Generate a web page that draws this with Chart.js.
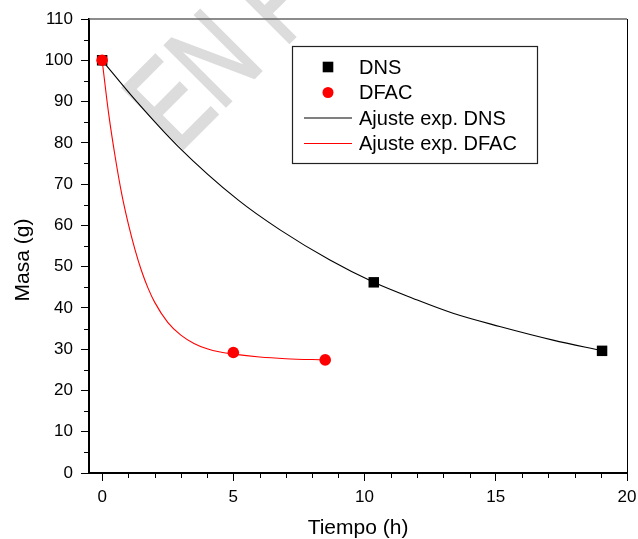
<!DOCTYPE html>
<html><head><meta charset="utf-8">
<script src="https://cdn.jsdelivr.net/npm/chart.js@4/dist/chart.umd.min.js"></script>
<style>html,body{margin:0;padding:0;background:#fff;}canvas{display:block;}</style>
</head><body>
<canvas id="c" width="638" height="539"></canvas>
<script>
// ---- data ----
const xTickValues = [0, 5, 10, 15, 20];
const xMinorTicks = [1, 2, 3, 4, 6, 7, 8, 9, 11, 12, 13, 14, 16, 17, 18, 19];
const yTickValues = [0, 10, 20, 30, 40, 50, 60, 70, 80, 90, 100, 110];
const yMinorTicks = [5, 15, 25, 35, 45, 55, 65, 75, 85, 95, 105];

const dnsTime = [0, 10.35, 19.05];
const dnsMass = [100, 46.2, 29.6];
const dfacTime = [0, 5, 8.5];
const dfacMass = [100, 29.2, 27.4];

const fitDnsTime = [0, 1.26, 2.9, 5.19, 6.78, 8.68, 10.35, 11.85, 13.37, 15.15, 17.18, 19.05];
const fitDnsMass = [100, 90.4, 79.1, 66.1, 58.9, 51.6, 46.2, 42.3, 38.7, 35.5, 32.2, 29.6];
const fitDfacTime = [0, 0.25, 0.5, 0.75, 1.0, 1.25, 1.5, 1.75, 2.0, 2.5, 3.0, 3.5, 4.0, 4.5, 5.0, 6.0, 7.0, 8.5];
const fitDfacMass = [100, 87, 76.5, 67.5, 60.3, 54.2, 49.0, 44.8, 41.4, 36.5, 33.4, 31.4, 30.1, 29.3, 28.8, 28.1, 27.7, 27.4];

const seriesNames = ['DNS', 'DFAC', 'Ajuste exp. DNS', 'Ajuste exp. DFAC'];
const xTitle = 'Tiempo (h)';
const yTitle = 'Masa (g)';
const watermarkText = 'EN P';

const FONT = "'Liberation Sans', Arial, Helvetica, sans-serif";
const pts = (xs, ys) => xs.map((x, i) => ({x: x, y: ys[i]}));

const datasets = [
  {label: seriesNames[0], data: pts(dnsTime, dnsMass), showLine: false,
   pointStyle: 'rect', pointRadius: 7.4, pointHoverRadius: 7.4, pointBorderWidth: 0,
   backgroundColor: '#000', borderColor: '#000', order: 1},
  {label: seriesNames[1], data: pts(dfacTime, dfacMass), showLine: false,
   pointStyle: 'circle', pointRadius: 5.8, pointHoverRadius: 5.8, pointBorderWidth: 0,
   backgroundColor: '#ff0000', borderColor: '#ff0000', order: 0},
  {label: seriesNames[2], data: pts(fitDnsTime, fitDnsMass), showLine: true,
   pointRadius: 0, pointHoverRadius: 0, borderColor: '#000', borderWidth: 1.1,
   cubicInterpolationMode: 'monotone', fill: false, order: 2},
  {label: seriesNames[3], data: pts(fitDfacTime, fitDfacMass), showLine: true,
   pointRadius: 0, pointHoverRadius: 0, borderColor: '#ff0000', borderWidth: 1.1,
   cubicInterpolationMode: 'monotone', fill: false, order: 3}
];

const decor = {
  id: 'decor',
  beforeDraw(chart) {
    const ctx = chart.ctx;
    ctx.save();
    ctx.translate(178, 154);
    ctx.rotate(-Math.PI / 4);
    ctx.scale(0.72, 1);
    ctx.font = '125px ' + FONT;
    ctx.fillStyle = '#dcdcdc';
    ctx.strokeStyle = '#dcdcdc';
    ctx.lineWidth = 2.5;
    ctx.textBaseline = 'alphabetic';
    ctx.fillText(watermarkText, 0, 0);
    ctx.strokeText(watermarkText, 0, 0);
    ctx.restore();
  },
  afterDraw(chart) {
    const ctx = chart.ctx, a = chart.chartArea;
    const xs = chart.scales.x, ys = chart.scales.y;
    ctx.save();
    // top and right frame lines
    ctx.strokeStyle = '#666';
    ctx.lineWidth = 1.5;
    ctx.beginPath(); ctx.moveTo(a.left, a.top); ctx.lineTo(a.right, a.top); ctx.stroke();
    ctx.strokeStyle = '#000';
    ctx.lineWidth = 1;
    ctx.beginPath(); ctx.moveTo(a.right + 0.5, a.top); ctx.lineTo(a.right + 0.5, a.bottom); ctx.stroke();
    // minor ticks
    ctx.lineWidth = 1;
    ctx.beginPath();
    xMinorTicks.forEach(v => {
      const p = Math.round(xs.getPixelForValue(v)) + 0.5;
      ctx.moveTo(p, a.bottom); ctx.lineTo(p, a.bottom + 5);
    });
    yMinorTicks.forEach(v => {
      const p = Math.round(ys.getPixelForValue(v)) + 0.5;
      ctx.moveTo(a.left, p); ctx.lineTo(a.left - 5, p);
    });
    ctx.stroke();
    // y title
    ctx.save();
    ctx.translate(23, 260);
    ctx.rotate(-Math.PI / 2);
    ctx.font = '21px ' + FONT;
    ctx.fillStyle = '#000';
    ctx.textAlign = 'center';
    ctx.textBaseline = 'middle';
    ctx.fillText(yTitle, 0, 0);
    ctx.restore();
    // legend
    const L = 292, T = 46, R = 537, B = 163;
    ctx.fillStyle = '#fff';
    ctx.fillRect(L, T, R - L, B - T);
    ctx.strokeStyle = '#222';
    ctx.lineWidth = 1.2;
    ctx.strokeRect(L + 0.5, T + 0.5, R - L, B - T);
    const rows = [67, 92.5, 118, 143.5];
    ctx.font = '20px ' + FONT;
    ctx.textAlign = 'left';
    ctx.textBaseline = 'middle';
    datasets.forEach((d, i) => {
      const y = rows[i];
      if (i === 0) {
        ctx.fillStyle = d.backgroundColor;
        ctx.fillRect(328 - 5.3, y - 5.3, 10.6, 10.6);
      } else if (i === 1) {
        ctx.fillStyle = d.backgroundColor;
        ctx.beginPath(); ctx.arc(328, y, 5.5, 0, Math.PI * 2); ctx.fill();
      } else {
        ctx.strokeStyle = d.borderColor;
        ctx.lineWidth = 1.1;
        ctx.beginPath(); ctx.moveTo(304, y); ctx.lineTo(352, y); ctx.stroke();
      }
      ctx.fillStyle = '#000';
      ctx.fillText(d.label, 359, y + 1);
    });
    ctx.restore();
  }
};

new Chart(document.getElementById('c'), {
  type: 'scatter',
  data: {datasets: datasets},
  options: {
    responsive: false,
    animation: false,
    events: [],
    layout: {padding: {left: 0, right: 11, top: 19, bottom: 0}},
    plugins: {legend: {display: false}, tooltip: {enabled: false}},
    scales: {
      x: {
        type: 'linear', min: -0.5, max: 20,
        afterBuildTicks: s => { s.ticks = xTickValues.map(v => ({value: v})); },
        afterFit: s => { s.height = 66; s.paddingLeft = 0; s.paddingRight = 0; },
        grid: {drawOnChartArea: false, drawTicks: true, tickLength: 8, tickColor: '#000', tickWidth: 1},
        border: {display: true, color: '#000', width: 2},
        ticks: {color: '#000', font: {family: FONT, size: 17}, padding: 6, maxRotation: 0, autoSkip: false},
        title: {display: true, text: xTitle, color: '#000', font: {family: FONT, size: 21}, padding: {top: 0, bottom: -2}}
      },
      y: {
        type: 'linear', min: 0, max: 110,
        afterBuildTicks: s => { s.ticks = yTickValues.map(v => ({value: v})); },
        afterFit: s => { s.width = 89; s.paddingTop = 0; s.paddingBottom = 0; },
        grid: {drawOnChartArea: false, drawTicks: true, tickLength: 8, tickColor: '#000', tickWidth: 1},
        border: {display: true, color: '#000', width: 2},
        ticks: {color: '#000', font: {family: FONT, size: 17}, padding: 8, autoSkip: false},
        title: {display: false}
      }
    }
  },
  plugins: [decor]
});
</script>
</body></html>
